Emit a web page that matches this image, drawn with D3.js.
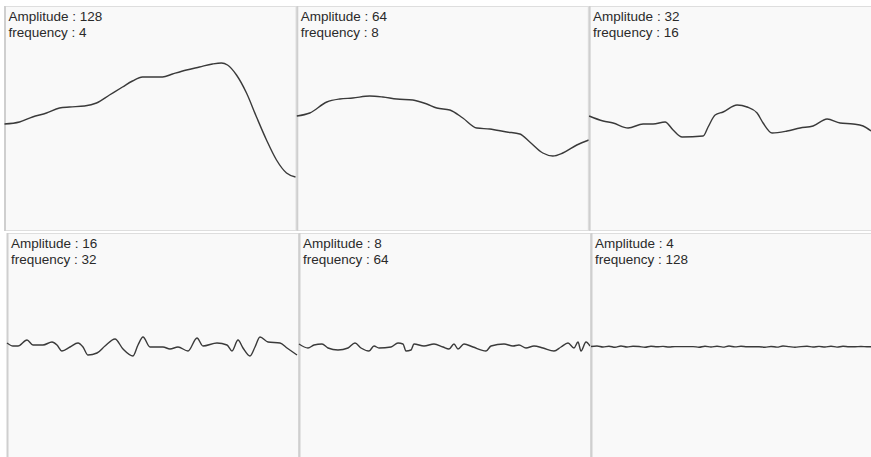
<!DOCTYPE html>
<html>
<head>
<meta charset="utf-8">
<script src="https://cdn.jsdelivr.net/npm/d3@7"></script>
<style>
  body { margin: 0; background: #fff; }
  text { font-family: "Liberation Sans", Arial, sans-serif; }
</style>
</head>
<body>
<div id="chart"></div>
<script>
// octave settings shown in each panel
var amplitudes = [128, 64, 32, 16, 8, 4];
var frequencies = [4, 8, 16, 32, 64, 128];

// samples: [position along panel, offset from middle]
var wave1 = [[0,-6],[15,-4],[28,1],[42,5],[55,10],[65,11],[80,12],[92,15],[105,23],[118,31],
  [128,37],[138,41],[158,41],[168,44],[182,48],[195,51],[208,54],[217,55],[223,53],[232,43],
  [242,25],[252,1],[262,-22],[272,-42],[282,-55],[291,-59]];

var wave2 = [[0,2],[13,5],[30,16],[43,19],[56,20],[73,22],[86,21],[100,19],[116,18],[130,14],
  [140,10],[153,8],[166,0],[180,-10],[193,-11],[210,-14],[223,-16],[233,-24],[246,-35],[256,-38],
  [266,-35],[280,-27],[292,-22]];

var wave3 = [[0,2],[14,-3],[24,-5],[39,-10],[54,-6],[64,-6],[76,-4],[84,-12],[93,-19],[114,-18],
  [119,-9],[126,3],[134,6],[148,13],[158,11],[168,5],[174,-5],[183,-15],[198,-13],[211,-10],
  [224,-8],[238,-1],[251,-5],[264,-6],[274,-8],[282,-13]];

var wave4 = [[0,2],[6,-1],[11,-1],[20,5],[26,0],[36,0],[45,3],[50,0],[55,-6],[63,-2],
  [71,2],[76,-2],[81,-10],[90,-8],[98,-1],[108,6],[116,-4],[126,-11],[131,0],[136,8],
  [143,-2],[156,-2],[163,-4],[171,-2],[181,-6],[190,7],[196,-1],[210,2],[220,0],[225,-6],
  [231,5],[236,-3],[243,-11],[248,-2],[253,8],[261,3],[273,2],[280,-3],[290,-10]];

var wave5 = [[0,1],[9,-3],[15,0],[23,1],[29,-3],[39,-5],[49,-3],[56,2],[62,-3],[70,-6],
  [75,-1],[80,-3],[92,-2],[99,2],[104,1],[107,-6],[112,-5],[115,1],[125,-1],[135,1],
  [144,-2],[150,-4],[155,1],[159,-4],[165,1],[174,-2],[187,-6],[192,-1],[205,1],[214,-1],
  [220,0],[227,-3],[235,-1],[244,-3],[255,-6],[262,-2],[269,2],[275,-3],[279,3],[282,-6],
  [287,3],[291,-1]];

var wave6 = [[0,-1.5],[6,-1],[12,-2],[18,-1.2],[24,-2.3],[30,-1],[36,-2],[42,-1.2],[48,-1.5],[54,-2.2],
  [60,-1.2],[66,-1.8],[72,-1.4],[78,-2],[84,-1.6],[90,-1.6],[96,-1.6],[102,-1.6],[108,-2.2],[114,-1.2],
  [120,-2],[126,-1.2],[132,-2.1],[138,-1],[144,-1.9],[150,-1.3],[156,-1.7],[162,-1.7],[168,-1.7],[174,-2.2],
  [180,-1.5],[186,-2.1],[192,-1],[198,-1.6],[204,-2.2],[210,-1.6],[216,-1.3],[222,-2],[228,-1.4],[234,-2],
  [240,-1.2],[246,-2.1],[252,-1.3],[258,-1.7],[264,-1.7],[270,-1.5],[276,-1.7],[282,-1.7]];

var waves = [wave1, wave2, wave3, wave4, wave5, wave6];

var width = 871, height = 457;
var panelW = 292, panelH = 224;

var svg = d3.select("#chart")
  .append("svg")
    .attr("width", width)
    .attr("height", height);

var x = d3.scaleLinear().domain([0, panelW]).range([0, panelW]);
var y = d3.scaleLinear().domain([-panelH / 2, panelH / 2]).range([panelH, 0]);

var line = d3.line()
  .x(function(d) { return x(d[0]); })
  .y(function(d) { return y(d[1]); })
  .curve(d3.curveMonotoneX);

// top row sits a little left of the bottom row
function panelLeft(i) {
  var col = i % 3;
  return i < 3 ? 4.5 + col * 292.3 : 7 + col * 292;
}
function panelTop(i) { return i < 3 ? 6 : 233; }

var panels = svg.selectAll(".panel")
  .data(waves)
  .enter()
  .append("g")
    .attr("class", "panel")
    .attr("transform", function(d, i) {
      return "translate(" + panelLeft(i) + "," + panelTop(i) + ")";
    });

panels.append("rect")
  .attr("x", 0.5)
  .attr("y", 0.5)
  .attr("width", panelW - 1)
  .attr("height", panelH)
  .style("fill", "#f9f9f9")
  .style("stroke", "#dedede");

// darker divider on the left edge of each panel
panels.append("line")
  .attr("x1", 0.5).attr("x2", 0.5)
  .attr("y1", 0).attr("y2", panelH + 1)
  .style("stroke", "#cfcfcf")
  .style("stroke-width", 2);

panels.append("path")
  .attr("d", line)
  .style("fill", "none")
  .style("stroke", "#3a3a3a")
  .style("stroke-width", 1.4);

panels.append("text")
  .attr("x", 4)
  .attr("y", 14.5)
  .style("font-size", "13.5px")
  .style("fill", "#2a2a2a")
  .text(function(d, i) { return "Amplitude : " + amplitudes[i]; });

panels.append("text")
  .attr("x", 4)
  .attr("y", 30.5)
  .style("font-size", "13.5px")
  .style("fill", "#2a2a2a")
  .text(function(d, i) { return "frequency : " + frequencies[i]; });
</script>
</body>
</html>
